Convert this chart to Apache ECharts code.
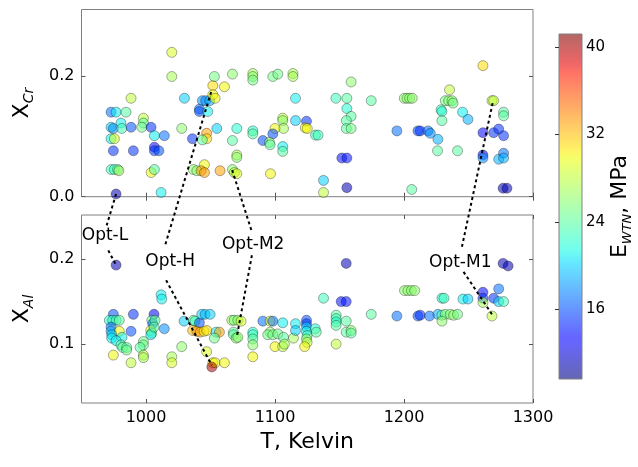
<!DOCTYPE html>
<html><head><meta charset="utf-8">
<script src="https://cdn.jsdelivr.net/npm/echarts@6/dist/echarts.min.js"></script>
<style>html,body{margin:0;padding:0;background:#fff}#c{width:638px;height:467px}</style>
</head><body><div id="c"></div>
<script>
// ---------- data ----------
const tTicks = [1000, 1100, 1200, 1300];
const crTicks = [0, 0.2];
const alTicks = [0.1, 0.2];
const eTicks = [16, 24, 32, 40];

// [T (K), X_Cr, E_WTN (MPa)]
const crPoints = [
[1020,0.239,29],[1020,0.199,27],[988.4,0.163,28],[972.9,0.140,17],[976.8,0.140,21],[984.5,0.140,24],
[972.9,0.115,20],[974.7,0.113,18],[980.6,0.122,21],[981.2,0.113,23],[988.4,0.115,16],[998,0.130,28],
[998,0.122,24],[996.7,0.115,25],[1003.9,0.115,15],[1006.5,0.101,21],[1014.2,0.101,17],[972.9,0.096,21],
[975.5,0.096,29],[974.7,0.076,15],[990.2,0.076,15],[1006.5,0.082,13],[1006.5,0.076,15],[1010,0.076,16],
[973,0.045,23],[975.5,0.045,23],[978,0.045,24],[979,0.043,27],[1004,0.040,30],[1006.5,0.045,24],
[976.8,0.0045,11],[1011.7,0.007,21],[1029.8,0.163,20],[1027.7,0.113,26],[1036,0.096,15],
[1043.7,0.159,18],[1046.3,0.159,18],[1049.4,0.159,19],[1041.4,0.145,17],[1041.4,0.141,16],[1047.9,0.141,21],
[1051.8,0.184,31],[1053,0.199,25],[1051.8,0.169,30],[1053.6,0.163,30],[1060.8,0.182,30],[1067,0.203,26],
[1047,0.105,33],[1047,0.096,31],[1043.7,0.094,24],[1054.9,0.113,20],[1067,0.093,24],[1070.4,0.113,22],
[1070.4,0.069,27],[1070.4,0.065,26],[1036.7,0.045,26],[1039.4,0.043,26],[1045.3,0.053,30],
[1042.7,0.043,33],[1045.3,0.040,33],[1057.4,0.043,33],[1067,0.045,26],[1068.5,0.040,28],[1070.4,0.038,29],
[1082.8,0.204,27],[1082.8,0.199,26],[1082.8,0.193,25],[1098.3,0.199,25],[1102.2,0.203,25],
[1113.9,0.204,27],[1113.9,0.199,27],[1159,0.190,26],[1115.9,0.163,21],[1147.2,0.163,23],[1155.7,0.163,24],
[1174.6,0.159,24],[1155.7,0.146,22],[1159,0.133,24],[1155.3,0.126,24],[1155.3,0.113,24],[1159,0.113,25],
[1082.8,0.109,22],[1082.8,0.104,24],[1106,0.130,28],[1106,0.126,26],[1106.6,0.113,27],[1100,0.113,30],
[1115.9,0.126,20],[1124.4,0.125,15],[1123.5,0.114,30],[1125,0.113,30],[1131.4,0.102,23],[1133.4,0.102,23],
[1090.6,0.093,16],[1098.3,0.104,16],[1095.7,0.090,26],[1096.2,0.086,24],[1106,0.083,21],[1106,0.075,24],
[1096.5,0.038,30],[1137.6,0.027,20],[1137.6,0.007,28],[1151.8,0.064,14],[1155.7,0.064,14],[1155.7,0.015,11],
[1261.2,0.217,31],[1200.2,0.163,26],[1202.3,0.163,26],[1204.3,0.163,26],[1206.4,0.163,26],[1235.3,0.177,28],
[1232,0.159,25],[1234.6,0.159,26],[1237.2,0.159,26],[1238,0.155,25],[1228.7,0.144,23],[1229.4,0.141,22],
[1229.4,0.126,24],[1245.4,0.140,21],[1249.6,0.128,19],[1268.2,0.159,28],[1269.5,0.159,28],
[1277.2,0.140,24],[1277.2,0.134,24],[1194.5,0.109,17],[1210.8,0.109,16],[1212.6,0.109,15],
[1218.6,0.109,17],[1220.4,0.105,18],[1226.3,0.095,19],[1226,0.076,24],[1241.5,0.076,24],[1261.2,0.106,13],
[1269.5,0.106,15],[1273.4,0.112,15],[1277.2,0.101,15],[1261.2,0.069,13],[1261.2,0.064,18],
[1273.4,0.062,19],[1277.2,0.072,17],[1277.2,0.064,19],[1206,0.012,24],[1276.8,0.014,11],[1279.8,0.014,11]
];

// [T (K), X_Al, E_WTN (MPa)]
const alPoints = [
[976.8,0.193,11],[1011.7,0.158,21],[1012.2,0.153,21],[974.7,0.135,16],[990.2,0.135,15],[1006.2,0.135,13],
[971.6,0.128,22],[974.2,0.128,23],[976.8,0.128,23],[979.3,0.128,24],[972.9,0.120,17],[972.9,0.115,19],
[979.3,0.115,30],[973.4,0.111,20],[973.4,0.107,21],[988.4,0.115,16],[981.4,0.108,21],[976.8,0.104,21],
[980.6,0.099,24],[981.9,0.096,24],[985,0.096,24],[985,0.093,25],[974.7,0.087,30],[988.4,0.078,28],
[1004.5,0.128,24],[1005.2,0.124,17],[1003.7,0.116,29],[1004.5,0.113,24],[1003.7,0.111,21],
[1007,0.128,24],[1006.2,0.120,24],[1014.2,0.118,18],[998,0.103,25],[998,0.099,25],[995.4,0.096,24],
[998,0.087,28],[998,0.084,27],[1027.7,0.097,26],[1020,0.085,27],[1020,0.078,29],[1029.5,0.127,20],
[1036.7,0.128,24],[1038,0.127,23],[1041.4,0.125,16],[1043.2,0.135,20],[1045.8,0.135,19],[1049.7,0.135,20],
[1036.2,0.116,32],[1039.4,0.115,33],[1041.9,0.114,33],[1045,0.115,30],[1047.1,0.116,31],
[1054.3,0.114,21],[1056.9,0.114,33],[1053,0.107,25],[1047,0.091,29],[1051.8,0.078,30],[1053.6,0.078,30],
[1051,0.073,40],[1060.8,0.078,30],[1066.5,0.128,27],[1068.3,0.128,25],[1067.8,0.114,24],[1067.8,0.111,24],
[1069.9,0.107,26],[1071.2,0.128,26],[1073.7,0.127,29],[1071.2,0.108,26],
[1082.8,0.114,22],[1082.8,0.111,23],[1082.8,0.106,24],[1082.8,0.099,26],[1082.8,0.085,30],
[1090.6,0.127,17],[1096.2,0.127,30],[1098.3,0.127,17],[1106,0.125,21],[1096.2,0.114,26],[1094.4,0.111,25],
[1098.3,0.111,25],[1102.2,0.112,25],[1106.6,0.108,24],[1100,0.097,30],[1106,0.097,28],[1107.3,0.100,27],
[1114.3,0.107,27],[1115.9,0.124,21],[1115.9,0.116,20],
[1124.4,0.128,16],[1124.4,0.124,15],[1124.4,0.120,20],[1124.4,0.115,21],[1124.9,0.110,23],
[1124.4,0.106,26],[1124.9,0.102,28],[1123,0.097,30],[1131.2,0.118,22],[1132,0.114,24],[1137.6,0.154,23],
[1147.4,0.134,24],[1147.4,0.130,23],[1147.4,0.126,22],[1147.4,0.122,24],[1147.4,0.100,28],
[1151.3,0.150,14],[1155.2,0.150,14],[1155.2,0.195,11],[1155.2,0.127,24],[1155.2,0.114,24],
[1159,0.116,26],[1159,0.113,24],[1174.6,0.135,24],
[1200.4,0.163,26],[1203,0.163,26],[1205.7,0.163,26],[1208.3,0.163,26],[1194.5,0.133,17],
[1210.8,0.133,16],[1212.6,0.134,15],[1219.8,0.133,17],[1226.3,0.135,19],
[1229.4,0.134,24],[1232,0.135,25],[1235.9,0.135,26],[1238.4,0.134,26],[1241.5,0.135,25],
[1229.4,0.127,26],[1229.4,0.154,22],[1231,0.154,23],[1245.7,0.153,21],[1249.6,0.153,20],
[1261.2,0.161,13],[1261.2,0.154,15],[1261.2,0.149,27],[1269.5,0.154,15],[1273.4,0.165,17],
[1273.4,0.150,20],[1277.2,0.150,23],[1268.2,0.133,28],[1276.8,0.195,11],[1280.7,0.192,11]
];

const eMin = 9.6, eMax = 41.2;

// annotations: label, point in X_Cr panel, point in X_Al panel, label position (X_Al panel coords)
const annotNames = ['Opt-L', 'Opt-H', 'Opt-M2', 'Opt-M1'];
const annotCrPoint = [[976.8, 0.0045], [1050.5, 0.1735], [1066.8, 0.0442], [1268.7, 0.155]];
const annotAlPoint = [[976.8, 0.193], [1051, 0.075], [1070.4, 0.1086], [1268.7, 0.134]];
const annotLabelPos = [[968.2, 0.228], [1018.7, 0.1976], [1083.1, 0.2176], [1243.6, 0.1965]];
</script>
<script>
// ---------- styling / layout ----------
const FONT = 'DejaVu Sans';
const upperOff = [[1.7,-10],[-5,-16],[-1.3,-12.3],[1.7,-15.3]];
const lowerOff = [[3.3,15],[-4,19],[-1.3,11],[3.3,9.7]];

function interp(t, pts){
  for (let i=1;i<pts.length;i++){
    if (t <= pts[i][0]) {
      const a=pts[i-1], b=pts[i];
      return a[1] + (b[1]-a[1])*(t-a[0])/(b[0]-a[0]);
    }
  }
  return pts[pts.length-1][1];
}
function jet(t){
  const r = interp(t, [[0,0],[0.35,0],[0.66,1],[0.89,1],[1,0.5]]);
  const g = interp(t, [[0,0],[0.125,0],[0.375,1],[0.64,1],[0.91,0],[1,0]]);
  const b = interp(t, [[0,0.5],[0.11,1],[0.34,1],[0.65,0],[1,0]]);
  return [Math.round(r*255), Math.round(g*255), Math.round(b*255)];
}
const N = 64;
const jetList = [], stops = [];
for (let i=0;i<N;i++){
  const t=i/(N-1); const c=jet(t);
  jetList.push('rgb('+c.join(',')+')');
  stops.push({offset: t, color: 'rgba('+c.join(',')+',0.6)'});
}

const chart = echarts.init(document.getElementById('c'), null, {renderer:'canvas'});
const frame = '#808080';
const tickStyle = {show:true, inside:true, length:4, lineStyle:{color:'#555', width:1}};
const labelStyle = {fontFamily:FONT, fontSize:16, color:'#000'};

function xAx(grid, pos, labels, extra){
  return Object.assign({
    type:'value', gridIndex:grid, position:pos, min:950, max:1300,
    axisLine:{show:false}, splitLine:{show:false},
    axisTick:Object.assign({customValues:tTicks}, tickStyle),
    axisLabel:Object.assign({show:labels, customValues:tTicks, margin:7, formatter:v=>String(v)}, labelStyle)
  }, extra||{});
}
function yAx(grid, pos, min, max, ticks, labels, extra){
  return Object.assign({
    type:'value', gridIndex:grid, position:pos, min:min, max:max,
    axisLine:{show:false}, splitLine:{show:false},
    axisTick:Object.assign({customValues:ticks}, tickStyle),
    axisLabel:Object.assign({show:labels, customValues:ticks, margin:7, formatter:v=>v.toFixed(1)}, labelStyle)
  }, extra||{});
}
const subRich = {
  a:{fontFamily:FONT, fontSize:22, color:'#000', lineHeight:28},
  b:{fontFamily:FONT, fontSize:14, fontStyle:'italic', color:'#000', verticalAlign:'bottom', lineHeight:10}
};

const option = {
  animation:false,
  backgroundColor:'#fff',
  grid:[
    {left:81.5, top:9.5, width:451.5, height:187.2, show:true, borderColor:frame, borderWidth:1, backgroundColor:'transparent'},
    {left:81.5, top:215, width:451.5, height:188, show:true, borderColor:frame, borderWidth:1, backgroundColor:'transparent'},
    {left:559, top:34, width:23, height:345, show:true, borderColor:frame, borderWidth:1,
     backgroundColor:{type:'linear', x:0, y:1, x2:0, y2:0, colorStops:stops}}
  ],
  xAxis:[
    xAx(0,'bottom',false),
    xAx(0,'top',false),
    xAx(1,'bottom',true,{name:'T, Kelvin', nameLocation:'middle', nameGap:28,
        nameTextStyle:{fontFamily:FONT, fontSize:22, color:'#000'}}),
    xAx(1,'top',false),
    {type:'value', gridIndex:2, show:false, min:0, max:1}
  ],
  yAxis:[
    yAx(0,'left',0,0.31,crTicks,true,{name:'{a|X}{b|Cr}', nameLocation:'middle', nameRotate:90, nameGap:45,
        nameTextStyle:{rich:subRich}}),
    yAx(0,'right',0,0.31,crTicks,false),
    yAx(1,'left',0.0306,0.252,alTicks,true,{name:'{a|X}{b|Al}', nameLocation:'middle', nameRotate:90, nameGap:45,
        nameTextStyle:{rich:subRich}}),
    yAx(1,'right',0.0306,0.252,alTicks,false),
    {type:'value', gridIndex:2, position:'right', min:eMin, max:eMax,
     axisLine:{show:false}, splitLine:{show:false},
     axisTick:Object.assign({customValues:eTicks}, tickStyle, {lineStyle:{color:'#333'}}),
     axisLabel:Object.assign({customValues:eTicks, margin:4, formatter:v=>String(v)}, labelStyle, {fontSize:15}),
     name:'{a|E}{b|WTN}{a|, MPa}', nameLocation:'middle', nameRotate:90, nameGap:20,
     nameTextStyle:{rich:{
       a:{fontFamily:FONT, fontSize:22, color:'#000', lineHeight:28},
       b:{fontFamily:FONT, fontSize:13, fontStyle:'italic', color:'#000', verticalAlign:'bottom', lineHeight:10}
     }}}
  ],
  visualMap:{type:'continuous', show:false, min:eMin, max:eMax, dimension:2, seriesIndex:[0,1],
    inRange:{color:jetList}},
  series:[
    {type:'scatter', xAxisIndex:0, yAxisIndex:0, data:crPoints, symbolSize:10,
     itemStyle:{opacity:0.55, borderColor:'rgba(0,0,0,0.75)', borderWidth:0.8}},
    {type:'scatter', xAxisIndex:2, yAxisIndex:2, data:alPoints, symbolSize:10,
     itemStyle:{opacity:0.55, borderColor:'rgba(0,0,0,0.75)', borderWidth:0.8}}
  ]
};
chart.setOption(option);

const g = [];
const lineSt = {stroke:'#000', lineWidth:2, lineDash:[3,3]};
annotNames.forEach((n,i)=>{
  const a = chart.convertToPixel({seriesIndex:0}, annotCrPoint[i]);
  const b = chart.convertToPixel({seriesIndex:1}, annotAlPoint[i]);
  const l = chart.convertToPixel({seriesIndex:1}, annotLabelPos[i]);
  const up = [l[0]+upperOff[i][0], l[1]+upperOff[i][1]];
  const lo = [l[0]+lowerOff[i][0], l[1]+lowerOff[i][1]];
  g.push({type:'line', z:100, shape:{x1:a[0],y1:a[1],x2:up[0],y2:up[1]}, style:lineSt, silent:true});
  g.push({type:'line', z:100, shape:{x1:lo[0],y1:lo[1],x2:b[0],y2:b[1]}, style:lineSt, silent:true});
  g.push({type:'text', z:101, x:l[0], y:l[1], style:{text:n, fill:'#000', fontFamily:FONT, fontSize:17,
    align:'center', verticalAlign:'middle'}});
});
chart.setOption({graphic:g});
</script>
</body></html>
